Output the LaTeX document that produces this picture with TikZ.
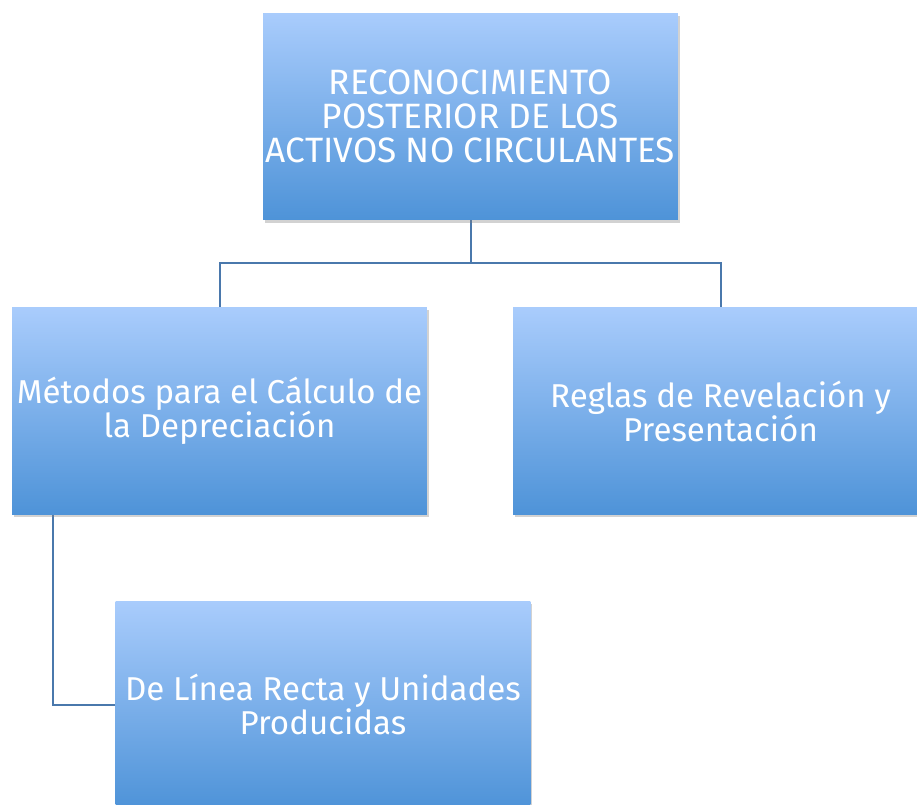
\documentclass[tikz,border=0pt]{standalone}
\usepackage{fontspec}
\setmainfont{Fira Sans}
\usetikzlibrary{positioning,shadows}

\definecolor{boxtop}{HTML}{A9CCFC}
\definecolor{boxbot}{HTML}{4E93D8}
\definecolor{wire}{HTML}{4A78AC}

\begin{document}
\begin{tikzpicture}[
  x=0.75pt,
  y=-0.75pt,
  topic/.style={
    rectangle,
    draw=none,
    top color=boxtop,
    bottom color=boxbot,
    minimum width=311pt,
    minimum height=155pt,
    inner sep=0pt,
    text=white,
    align=center,
    font=\fontsize{24.8}{25.5}\selectfont,
    drop shadow={opacity=0.35, shadow xshift=1.5pt, shadow yshift=-2pt}
  },
  link/.style={
    draw=wire,
    line width=1.5pt
  }
]

\clip (0,0) rectangle (917,804);
\fill[white] (0,0) rectangle (917,804);

% Connectors
\coordinate (fork) at (470.5,263);
\coordinate (elbow) at (53,705);

\draw[link] (470.5,220) -- (fork);
\draw[link] (fork) -| (219.5,307);
\draw[link] (fork) -| (720.5,307);
\draw[link] (53,515) -- (elbow) -- (116,705);

% Boxes
\node[topic, font=\fontsize{26.4}{25.5}\selectfont] (root) at (470.5,116.5)
  {RECONOCIMIENTO\\POSTERIOR DE LOS\\ACTIVOS NO CIRCULANTES};
\node[topic] (depr) at (219.5,411)
  {Métodos para el Cálculo de\\la Depreciación};
\node[topic] (rules) at (720.5,411)
  {Reglas de Revelación y\\Presentación};
\node[topic] (lines) at (323,704.5)
  {De Línea Recta y Unidades\\Producidas};

\end{tikzpicture}
\end{document}
